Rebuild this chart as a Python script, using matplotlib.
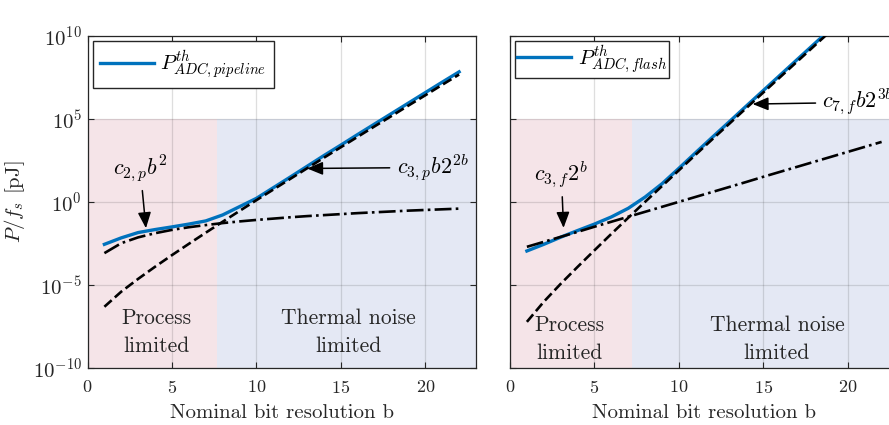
import numpy as np
import matplotlib
matplotlib.use("Agg")
import matplotlib.pyplot as plt

plt.rcParams.update({
    "font.family": "serif",
    "font.serif": ["cmr10"],
    "mathtext.fontset": "cm",
    "axes.formatter.use_mathtext": True,
    "axes.unicode_minus": True,
})

# Nominal bit resolution
bits = np.arange(1, 23)

# log10 of energy per conversion [pJ], pipeline ADC
pipe_total_log = [-2.55, -2.16, -1.84, -1.66, -1.50, -1.33, -1.14, -0.78, -0.28, 0.22, 0.86,
                  1.50, 2.15, 2.80, 3.43, 4.07, 4.70, 5.33, 5.96, 6.59, 7.22, 7.84]
pipe_process_log = [-3.08, -2.48, -2.13, -1.88, -1.68, -1.52, -1.39, -1.27, -1.17, -1.08, -1.00,
                    -0.92, -0.85, -0.79, -0.73, -0.67, -0.62, -0.57, -0.52, -0.48, -0.44, -0.40]
pipe_thermal_log = [-6.31, -5.40, -4.63, -3.90, -3.20, -2.52, -1.85, -1.19, -0.54, 0.11, 0.75,
                    1.39, 2.03, 2.67, 3.30, 3.93, 4.56, 5.18, 5.81, 6.43, 7.06, 7.68]

# log10 of energy per conversion [pJ], flash ADC
flash_total_log = [-2.95, -2.55, -2.12, -1.72, -1.33, -0.90, -0.38, 0.30, 1.10, 2.03, 2.98,
                   3.92, 4.85, 5.79, 6.72, 7.65, 8.58, 9.51, 10.44, 11.37, 12.30, 13.22]
flash_process_log = [-2.70, -2.40, -2.10, -1.80, -1.49, -1.19, -0.89, -0.59, -0.29, 0.01, 0.31,
                     0.61, 0.91, 1.21, 1.52, 1.82, 2.12, 2.42, 2.72, 3.02, 3.32, 3.62]
flash_thermal_log = [-7.22, -6.01, -4.93, -3.91, -2.91, -1.92, -0.95, 0.01, 0.96, 1.91, 2.86,
                     3.80, 4.73, 5.67, 6.60, 7.53, 8.46, 9.39, 10.32, 11.24, 12.17, 13.09]

# Boundary between process-limited and thermal-noise-limited regions
pipe_boundary = 7.66
flash_boundary = 7.23

x_ticks = [0, 5, 10, 15, 20]
y_ticks = [1e-10, 1e-5, 1e0, 1e5, 1e10]

BLUE = "#0072BD"
PINK = "#F5E4E8"
LAV = "#E4E8F4"
EDGE = "#262626"

fig = plt.figure(figsize=(8.89, 4.25), dpi=100)
W, H = 889.0, 425.0
ax_w = (476 - 87.5) / W
ax_b = 1 - 368 / H
ax_h = 332 / H
ax1 = fig.add_axes([87.5 / W, ax_b, ax_w, ax_h])
ax2 = fig.add_axes([510 / W, ax_b, ax_w, ax_h])


def style_axes(ax, boundary, show_ylabels):
    ax.set_yscale("log")
    ax.set_xlim(0, 23)
    ax.set_ylim(1e-10, 1e10)
    ax.set_xticks(x_ticks)
    ax.set_yticks(y_ticks)
    ax.minorticks_off()
    ax.axvspan(0, boundary, ymin=0, ymax=0.75, facecolor=PINK, edgecolor="none", zorder=0.2)
    ax.axvspan(boundary, 23, ymin=0, ymax=0.75, facecolor=LAV, edgecolor="none", zorder=0.2)
    ax.set_axisbelow(True)
    ax.grid(True, color=EDGE, alpha=0.15, lw=0.9)
    ax.tick_params(direction="in", top=True, right=True, length=4, width=0.8,
                   color=EDGE, labelcolor="#262626")
    ax.tick_params(axis="x", labelsize=13, pad=8)
    ax.tick_params(axis="y", labelsize=15, pad=4)
    if not show_ylabels:
        ax.tick_params(axis="y", labelleft=False)
    for s in ax.spines.values():
        s.set_color(EDGE)
        s.set_linewidth(0.9)
    ax.set_xlabel("Nominal bit resolution b", fontsize=15, color="#262626", labelpad=6)


style_axes(ax1, pipe_boundary, True)
style_axes(ax2, flash_boundary, False)
ax1.set_ylabel(r"$P/f_s$ [pJ]", fontsize=15, color="#262626", labelpad=4)

# Pipeline ADC
ax1.plot(bits, 10.0 ** np.array(pipe_total_log), color=BLUE, lw=2.4, zorder=3,
         label=r"$P^{th}_{ADC,pipeline}$")
ax1.plot(bits, 10.0 ** np.array(pipe_process_log), color="black", lw=1.9, ls="-.", zorder=4)
ax1.plot(bits, 10.0 ** np.array(pipe_thermal_log), color="black", lw=1.9, ls="--", zorder=4)

# Flash ADC
ax2.plot(bits, 10.0 ** np.array(flash_total_log), color=BLUE, lw=2.4, zorder=3,
         label=r"$P^{th}_{ADC,flash}$")
ax2.plot(bits, 10.0 ** np.array(flash_process_log), color="black", lw=1.9, ls="-.", zorder=4)
ax2.plot(bits, 10.0 ** np.array(flash_thermal_log), color="black", lw=1.9, ls="--", zorder=4)

for ax, pad in ((ax1, 0.35), (ax2, 0.1)):
    leg = ax.legend(loc="upper left", fontsize=15, handlelength=2.6, handletextpad=0.3,
                    borderaxespad=0.25, borderpad=pad, fancybox=False, framealpha=1.0)
    leg.get_frame().set_edgecolor(EDGE)
    leg.get_frame().set_linewidth(1.0)

arrow = dict(arrowstyle="-|>,head_length=0.6,head_width=0.25", color="black", lw=1.1,
             shrinkA=3, shrinkB=0)

ax1.annotate(r"$c_{2,p}b^2$", xy=(3.46, 10 ** -1.58), xytext=(3.12, 10 ** 2.02),
             fontsize=16, ha="center", va="center", arrowprops=arrow, zorder=6)
ax1.annotate(r"$c_{3,p}b2^{2b}$", xy=(13.0, 10 ** 2.02), xytext=(18.3, 10 ** 2.08),
             fontsize=16, ha="left", va="center", arrowprops=arrow, zorder=6)
ax2.annotate(r"$c_{3,f}2^b$", xy=(3.17, 10 ** -1.56), xytext=(3.04, 10 ** 1.64),
             fontsize=16, ha="center", va="center", arrowprops=arrow, zorder=6)
ax2.annotate(r"$c_{7,f}b2^{3b}$", xy=(14.36, 10 ** 5.9), xytext=(18.5, 10 ** 6.0),
             fontsize=16, ha="left", va="center", arrowprops=arrow, zorder=6,
             annotation_clip=False)

region_text = dict(fontsize=15.5, ha="center", va="center", linespacing=1.55,
                   color="#262626", zorder=5)
ax1.text(4.07, 10 ** -7.83, "Process\nlimited", **region_text)
ax1.text(15.45, 10 ** -7.83, "Thermal noise\nlimited", **region_text)
ax2.text(3.49, 10 ** -8.27, "Process\nlimited", **region_text)
ax2.text(15.8, 10 ** -8.27, "Thermal noise\nlimited", **region_text)

fig.savefig("out.png", dpi=100, facecolor="white")
